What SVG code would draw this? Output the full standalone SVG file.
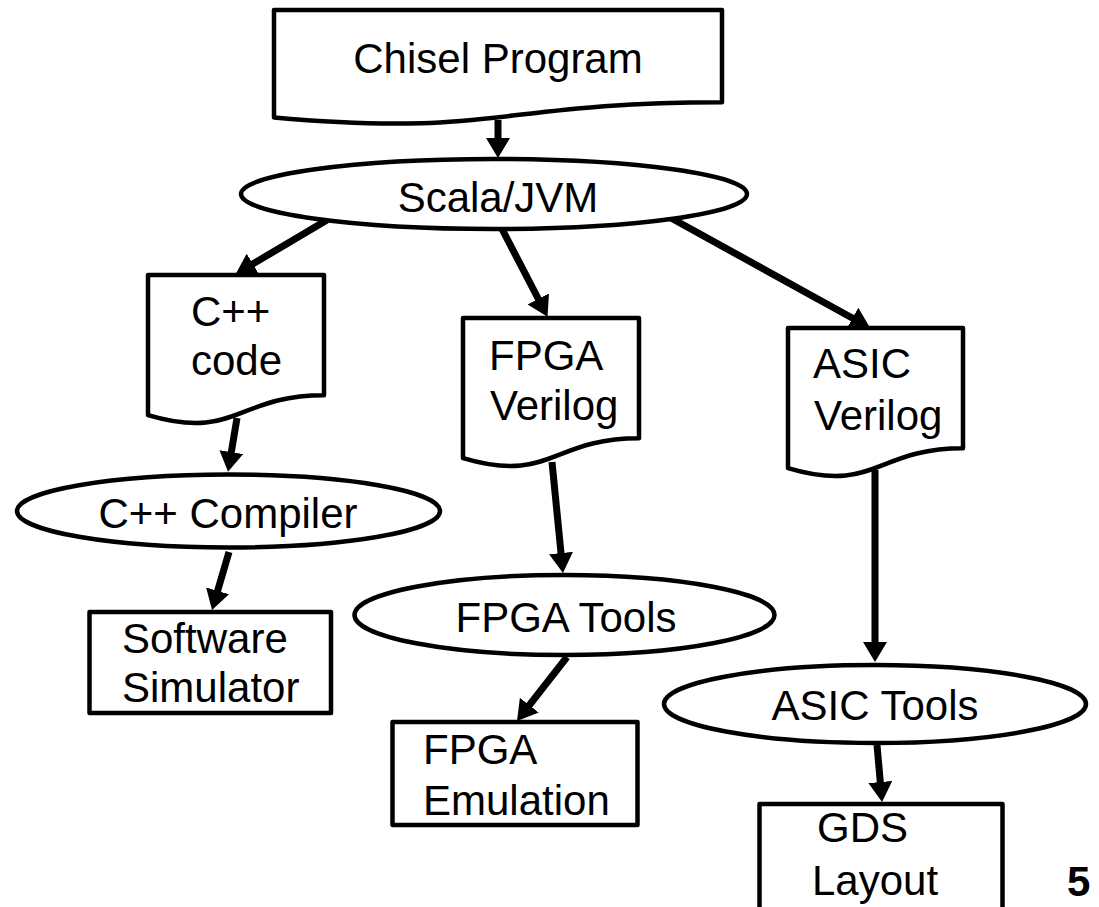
<svg xmlns="http://www.w3.org/2000/svg" width="1099" height="907" viewBox="0 0 1099 907">
<style>
.s{fill:#fff;stroke:#000;stroke-width:4.5;stroke-linejoin:round}
.t{font-family:"Liberation Sans",Arial,Helvetica,sans-serif;font-size:42px;fill:#000}
.c{text-anchor:middle}
.e{stroke:#000;stroke-width:7;fill:none;marker-end:url(#ah)}
</style>
<defs>
<marker id="ah" markerUnits="userSpaceOnUse" viewBox="0 0 20 24" markerWidth="20" markerHeight="24" refX="8" refY="12" orient="auto">
<path d="M0,0 L20,12 L0,24 Z" fill="#000"/>
</marker>
</defs>
<rect width="1099" height="907" fill="#fff"/>
<g id="connectors">
<line class="e" x1="498" y1="120" x2="498" y2="146"/>
<line class="e" x1="327" y1="220" x2="246" y2="268"/>
<line class="e" x1="502" y1="229" x2="542" y2="306"/>
<line class="e" x1="671" y1="218" x2="859.5" y2="322"/>
<line class="e" x1="237" y1="418" x2="230" y2="460"/>
<line class="e" x1="229" y1="552" x2="215.4" y2="598.5"/>
<line class="e" x1="552" y1="462" x2="561.8" y2="561"/>
<line class="e" x1="567" y1="657" x2="524.4" y2="711.5"/>
<line class="e" x1="875" y1="470" x2="875" y2="650"/>
<line class="e" x1="877" y1="745" x2="881" y2="790"/>
</g>
<g id="chisel">
<path class="s" d="M274,10 H722 V102.2 C498,102.2 498,137.4 274,117.4 Z"/>
<text class="t c" x="498" y="73">Chisel Program</text>
</g>
<g id="scala">
<ellipse class="s" cx="494" cy="194" rx="253" ry="35"/>
<text class="t c" x="498" y="212">Scala/JVM</text>
</g>
<g id="cppcode">
<path class="s" d="M148,275 H324 V395.3 C236,395.3 236,441.1 148,415.1 Z"/>
<text class="t" x="191" y="326">C++</text>
<text class="t" x="191" y="375">code</text>
</g>
<g id="fpgaverilog">
<path class="s" d="M463,318 H639 V438.3 C551,438.3 551,484.1 463,458.1 Z"/>
<text class="t" x="489" y="370">FPGA</text>
<text class="t" x="490" y="420">Verilog</text>
</g>
<g id="asicverilog">
<path class="s" d="M788,328 H963 V448.3 C875.5,448.3 875.5,494.1 788,468.1 Z"/>
<text class="t" x="813" y="378">ASIC</text>
<text class="t" x="814" y="430">Verilog</text>
</g>
<g id="cppcompiler">
<ellipse class="s" cx="228.5" cy="511" rx="211.5" ry="36.5"/>
<text class="t c" x="228" y="528">C++ Compiler</text>
</g>
<g id="swsim">
<rect class="s" x="89.5" y="612" width="241.5" height="101"/>
<text class="t" x="122" y="653">Software</text>
<text class="t" x="122" y="702">Simulator</text>
</g>
<g id="fpgatools">
<ellipse class="s" cx="564.5" cy="615" rx="210" ry="40"/>
<text class="t c" x="566" y="632">FPGA Tools</text>
</g>
<g id="fpgaemu">
<rect class="s" x="392.5" y="722" width="245" height="103"/>
<text class="t" x="423" y="764">FPGA</text>
<text class="t" x="423" y="815">Emulation</text>
</g>
<g id="asictools">
<ellipse class="s" cx="875" cy="704" rx="211" ry="39"/>
<text class="t c" x="875" y="720">ASIC Tools</text>
</g>
<g id="gds">
<rect class="s" x="759.5" y="804" width="243" height="106"/>
<text class="t" x="817" y="842">GDS</text>
<text class="t" x="812" y="895">Layout</text>
</g>
<text class="t" x="1067" y="896" font-weight="bold">5</text>
</svg>
